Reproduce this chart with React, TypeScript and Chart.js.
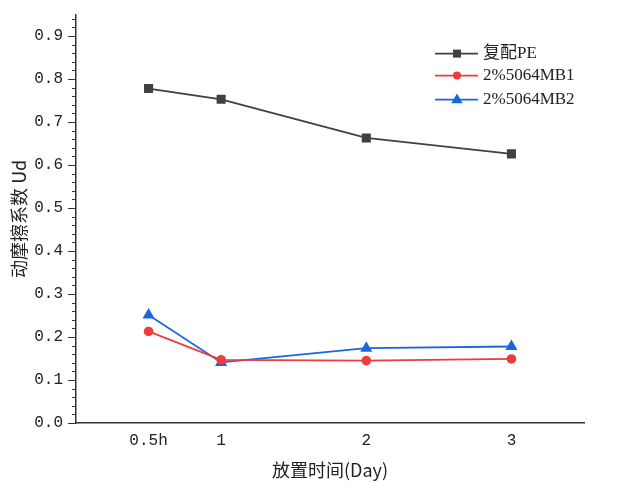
import React, { useEffect, useRef } from "react";
import { Chart, registerables } from "chart.js";

Chart.register(...registerables);

const xPositions = [0.5, 1, 2, 3];
const xTickLabels = ["0.5h", "1", "2", "3"];
const yTicks = [0, 0.1, 0.2, 0.3, 0.4, 0.5, 0.6, 0.7, 0.8, 0.9];

const seriesNames = ["复配PE", "2%5064MB1", "2%5064MB2"];
const pe = [0.778, 0.753, 0.663, 0.626];
const mb1 = [0.213, 0.147, 0.145, 0.149];
const mb2 = [0.251, 0.141, 0.174, 0.178];
const colors = ["#404040", "#EE3B3B", "#1A66DC"];
const pointStyles = ["rect", "circle", "triangle"];
const pointRadii = [6.4, 4.8, 7];

const CJK = '"Noto Sans CJK SC", sans-serif';
const SERIF = '"Liberation Serif", "Noto Sans CJK SC", serif';
const MONO = '"Liberation Mono", monospace';

function drawMarker(ctx: CanvasRenderingContext2D, style: string, x: number, y: number, r: number, color: string) {
  ctx.save();
  ctx.fillStyle = color;
  ctx.beginPath();
  if (style === "rect") {
    ctx.rect(x - r, y - r, 2 * r, 2 * r);
  } else if (style === "circle") {
    ctx.arc(x, y, r, 0, Math.PI * 2);
  } else {
    ctx.moveTo(x, y - r);
    ctx.lineTo(x + r * 0.95, y + r * 0.6);
    ctx.lineTo(x - r * 0.95, y + r * 0.6);
    ctx.closePath();
  }
  ctx.fill();
  ctx.restore();
}

const extrasPlugin = {
  id: "extras",
  afterDraw(chart: any) {
    const ctx = chart.ctx as CanvasRenderingContext2D;
    const y = chart.scales.y;
    const area = chart.chartArea;
    // minor ticks
    ctx.save();
    ctx.strokeStyle = "#333";
    ctx.lineWidth = 1;
    for (let i = 1; i < 48; i++) {
      if (i % 5 === 0) continue;
      const py = Math.round(y.getPixelForValue(i * 0.02)) + 0.5;
      ctx.beginPath();
      ctx.moveTo(area.left - 4, py);
      ctx.lineTo(area.left, py);
      ctx.stroke();
    }
    ctx.restore();
    // legend
    const lx = area.right - 149;
    const rows = [area.top + 39, area.top + 61, area.top + 85];
    chart.data.datasets.forEach((ds: any, i: number) => {
      const ry = rows[i];
      ctx.save();
      ctx.strokeStyle = ds.borderColor;
      ctx.lineWidth = 1.6;
      ctx.beginPath();
      ctx.moveTo(lx, ry);
      ctx.lineTo(lx + 43, ry);
      ctx.stroke();
      ctx.restore();
      drawMarker(ctx, pointStyles[i], lx + 22, ry, i === 2 ? 6 : 4, ds.borderColor);
      ctx.save();
      ctx.fillStyle = "#222";
      ctx.font = `17px ${SERIF}`;
      ctx.textBaseline = "middle";
      ctx.fillText(ds.label, lx + 48, ry);
      ctx.restore();
    });
  },
};

export default function App() {
  const ref = useRef<HTMLCanvasElement>(null);
  useEffect(() => {
    if (!ref.current) return;
    const values = [pe, mb1, mb2];
    const chart = new Chart(ref.current, {
      type: "line",
      data: {
        datasets: values.map((v, i) => ({
          label: seriesNames[i],
          data: v.map((val, j) => ({ x: xPositions[j], y: val })),
          borderColor: colors[i],
          backgroundColor: colors[i],
          borderWidth: 1.8,
          pointStyle: pointStyles[i] as any,
          pointRadius: pointRadii[i],
          pointBorderWidth: 0,
          pointBackgroundColor: colors[i],
          tension: 0,
        })),
      },
      options: {
        animation: false,
        responsive: true,
        maintainAspectRatio: false,
        layout: { padding: { top: 13, right: 42, left: 0, bottom: 0 } },
        plugins: { legend: { display: false }, tooltip: { enabled: false } },
        scales: {
          x: {
            type: "linear",
            min: 0,
            max: 3.5,
            afterBuildTicks: (s: any) => {
              s.ticks = xPositions.map((v) => ({ value: v }));
            },
            afterFit: (s: any) => {
              s.height = 66;
            },
            ticks: {
              callback: (v: any) => {
                const idx = xPositions.indexOf(Number(v));
                return idx >= 0 ? xTickLabels[idx] : "";
              },
              color: "#222",
              font: { family: MONO, size: 16 },
              padding: 8,
              maxRotation: 0,
              autoSkip: false,
            },
            grid: { display: true, drawOnChartArea: false, drawTicks: false },
            border: { display: true, color: "#333", width: 1.5 },
            title: {
              display: true,
              text: "放置时间(Day)",
              color: "#222",
              font: { family: CJK, size: 18 },
              padding: { top: 4, bottom: 8 },
            },
          },
          y: {
            type: "linear",
            min: 0,
            max: 0.95,
            afterBuildTicks: (s: any) => {
              s.ticks = yTicks.map((v) => ({ value: v }));
            },
            afterFit: (s: any) => {
              s.width = 76;
            },
            ticks: {
              callback: (v: any) => Number(v).toFixed(1),
              color: "#222",
              font: { family: MONO, size: 16 },
              padding: 5,
            },
            grid: { drawOnChartArea: false, drawTicks: true, tickLength: 8, color: "#333", lineWidth: 1 },
            border: { display: true, color: "#333", width: 1.5 },
            title: {
              display: true,
              text: "动摩擦系数 Ud",
              color: "#222",
              font: { family: CJK, size: 18 },
              padding: { top: 8, bottom: 0 },
            },
          },
        },
      },
      plugins: [extrasPlugin],
    });
    return () => chart.destroy();
  }, []);
  return (
    <div style={{ position: "fixed", left: 0, top: 0, width: 626, height: 489, background: "#fff" }}>
      <canvas ref={ref} />
    </div>
  );
}
